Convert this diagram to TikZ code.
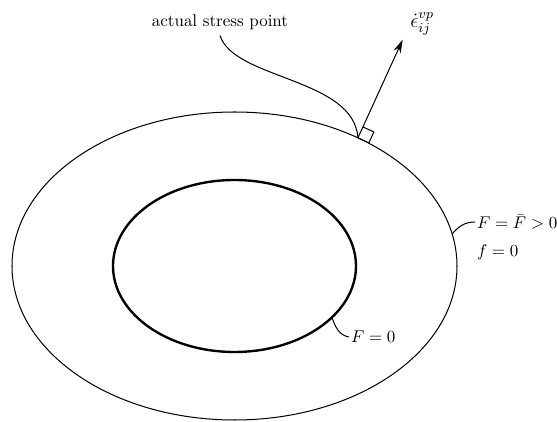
\documentclass[tikz,border=0pt]{standalone}
\usetikzlibrary{positioning,arrows.meta}
\begin{document}
\begin{tikzpicture}[x=.0207cm,y=.0207cm,>={Stealth[length=8pt,width=4.5pt]},
   yield/.style={line width=.6pt},
   lbl/.style={inner sep=1pt}]
 \useasboundingbox (0,0) rectangle (557,422);
 \coordinate (O) at (234.5,156);
 % yield surfaces
 \draw[yield] (O) ellipse [x radius=222.5,y radius=154];
 \draw[line width=1.4pt] (O) ellipse [x radius=121.5,y radius=86];
 % stress point and normal
 \path (O) ++(56.3:222.5 and 154) coordinate (P);
 \draw[yield,->] (P) -- ++(65.5:108) coordinate (tip);
 \draw[yield] (P) -- ++(-24.5:12) -- ++(65.5:12) -- ++(155.5:12);
 \node[above right=-1pt and 1pt of tip] (eps) {\large$\dot\epsilon_{ij}^{vp}$};
 \node (stress) at (220,400) {actual stress point};
 \draw[yield] (stress.south) .. controls +(14,-44) and +(-4,60) .. (P);
 % labels
 \node[lbl,anchor=west] (Fbar) at (475,200) {$F=\bar F>0$};
 \node[lbl,anchor=west] (fnull) at (475,170) {$f=0$};
 \path (O) ++(12:222.5 and 154) coordinate (Q);
 \draw[yield] (Q) to[out=50,in=180] (Fbar.west);
 \node[lbl,anchor=west] (Fnull) at (349,85) {$F=0$};
 \path (O) ++(-36.7:121.5 and 86) coordinate (R);
 \draw[yield] (R) to[out=-70,in=170] (Fnull.west);
\end{tikzpicture}
\end{document}
